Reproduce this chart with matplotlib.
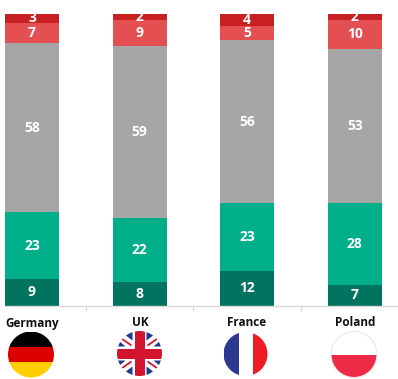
import matplotlib.pyplot as plt
from matplotlib.patches import Circle, Rectangle, Polygon

countries = ['Germany', 'UK', 'France', 'Poland']
seg1 = [9, 8, 12, 7]
seg2 = [23, 22, 23, 28]
seg3 = [58, 59, 56, 53]
seg4 = [7, 9, 5, 10]
seg5 = [3, 2, 4, 2]
colors = ['#00745F', '#00AE8A', '#A6A6A6', '#E44F51', '#C82022']

plt.rcParams['font.family'] = ['Open Sans', 'DejaVu Sans']

W, H = 398, 379
fig = plt.figure(figsize=(W / 100, H / 100), dpi=100)

# bars axes, placed in pixels
top, base = 14, 305.5
left, right = 5, 398
ax = fig.add_axes([left / W, 1 - base / H, (right - left) / W, (base - top) / H])
step = 107.6
ax.set_xlim((left - 32) / step, (right - 32) / step)
ax.set_ylim(0, 100)

bottom = [0, 0, 0, 0]
for vals, col in zip([seg1, seg2, seg3, seg4, seg5], colors):
    bars = ax.bar(range(4), vals, width=0.5, bottom=bottom, color=col, linewidth=0)
    ax.bar_label(bars, label_type='center', color='white', fontsize=10, fontweight='bold')
    bottom = [b + v for b, v in zip(bottom, vals)]

for s in ['top', 'left', 'right']:
    ax.spines[s].set_visible(False)
ax.spines['bottom'].set_color('#D9D9D9')
ax.spines['bottom'].set_linewidth(1)
ax.set_yticks([])
ax.set_xticks([0.5, 1.5, 2.5])
ax.set_xticklabels([])
ax.tick_params(axis='x', length=3.5, color='#D9D9D9', width=1)

# flags and names, in pixel coordinates
ov = fig.add_axes([0, 0, 1, 1])
ov.set_xlim(0, W)
ov.set_ylim(H, 0)
ov.axis('off')
ov.patch.set_alpha(0)

name_x = [32, 140, 247, 355]
for x, name in zip(name_x, countries):
    ov.text(x, 323, name, ha='center', va='center', fontsize=8.5, fontweight='bold', color='#111111')


def clipped(patch, circ):
    ov.add_patch(patch)
    patch.set_clip_path(circ)


def rect(x0, y0, x1, y1, col, circ):
    clipped(Rectangle((x0, y0), x1 - x0, y1 - y0, color=col, linewidth=0), circ)


# Germany
cx, cy, r = 31, 354.5, 23
c = Circle((cx, cy), r, facecolor='none', edgecolor='none')
ov.add_patch(c)
rect(cx - r, cy - r, cx + r, cy - 7.5, '#000000', c)
rect(cx - r, cy - 7.5, cx + r, cy + 7.5, '#DD0000', c)
rect(cx - r, cy + 7.5, cx + r, cy + r, '#FFCE00', c)

# UK
cx, cy, r = 139.5, 353.5, 22.5
c = Circle((cx, cy), r, facecolor='none', edgecolor='none')
ov.add_patch(c)
rect(cx - r, cy - r, cx + r, cy + r, '#FFFFFF', c)
for sx in (-1, 1):
    for sy in (-1, 1):
        clipped(Polygon([(cx + sx * 7, cy + sy * 22), (cx + sx * 7, cy + sy * 13), (cx + sx * 15, cy + sy * 19)],
                        closed=True, color='#1F3A8C', linewidth=0), c)
        clipped(Polygon([(cx + sx * 23, cy + sy * 7), (cx + sx * 14, cy + sy * 7), (cx + sx * 21, cy + sy * 13)],
                        closed=True, color='#1F3A8C', linewidth=0), c)
        ln, = ov.plot([cx + sx * 8, cx + sx * 21], [cy + sy * 8, cy + sy * 17], color='#D2142E', lw=1.3,
                      solid_capstyle='butt')
        ln.set_clip_path(c)
rect(cx - 5, cy - r, cx + 5, cy + r, '#D2142E', c)
rect(cx - r, cy - 5, cx + r, cy + 5, '#D2142E', c)

# France
cx, cy, r = 245.5, 354, 22
c = Circle((cx, cy), r, facecolor='none', edgecolor='none')
ov.add_patch(c)
rect(cx - r, cy - r, cx - 7, cy + r, '#2B3990', c)
rect(cx - 7, cy - r, cx + 7, cy + r, '#FFFFFF', c)
rect(cx + 7, cy - r, cx + r, cy + r, '#EE1C25', c)

# Poland
cx, cy, r = 354, 354.5, 23
c = Circle((cx, cy), r, facecolor='none', edgecolor='none')
ov.add_patch(c)
rect(cx - r, cy - r, cx + r, cy, '#FFFFFF', c)
rect(cx - r, cy, cx + r, cy + r, '#EE2A47', c)
ov.add_patch(Circle((cx, cy), r, facecolor='none', edgecolor='#E8E8E8', linewidth=0.8))

fig.savefig('out.png', dpi=100)
